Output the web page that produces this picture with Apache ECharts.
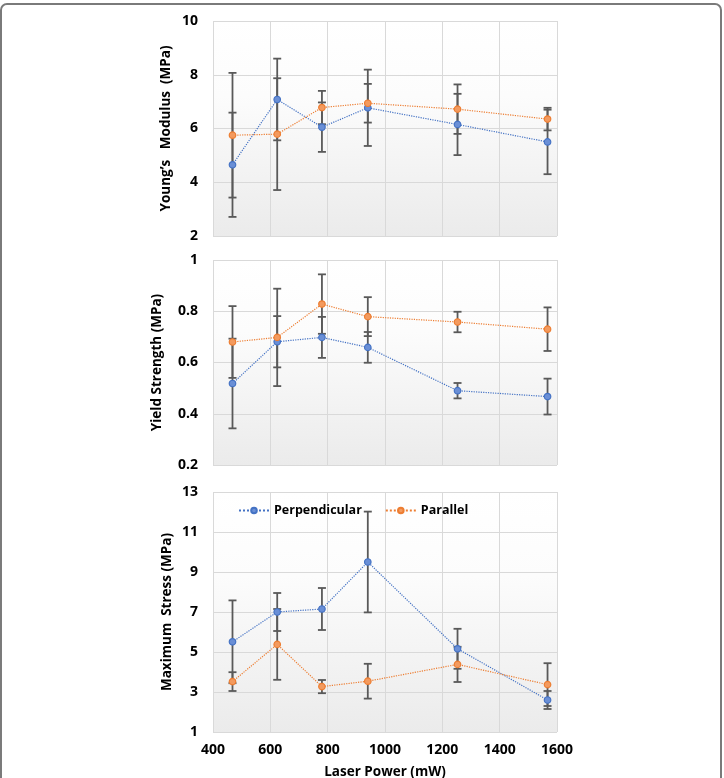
<!DOCTYPE html>
<html>
<head>
<meta charset="utf-8">
<script src="https://cdn.jsdelivr.net/npm/echarts@6/dist/echarts.min.js"></script>
<style>
  html, body { margin: 0; padding: 0; background: #fff; }
  #chart { width: 724px; height: 778px; }
</style>
</head>
<body>
<div id="chart"></div>
<script>
// laser power (mW) of the six test groups
var laserPower = [468, 624, 780, 940, 1253, 1567];

// Young's modulus (MPa)
var perpModulus = [4.65, 7.08, 6.05, 6.77, 6.15, 5.50];
var perpModulusErr = [1.94, 1.52, 0.92, 1.42, 1.14, 1.20];
var parModulus = [5.75, 5.79, 6.78, 6.94, 6.72, 6.35];
var parModulusErr = [2.32, 2.08, 0.62, 0.72, 0.92, 0.42];

// yield strength (MPa)
var perpYield = [0.518, 0.681, 0.698, 0.659, 0.490, 0.467];
var perpYieldErr = [0.175, 0.100, 0.080, 0.060, 0.030, 0.070];
var parYield = [0.680, 0.698, 0.828, 0.779, 0.758, 0.730];
var parYieldErr = [0.140, 0.190, 0.116, 0.076, 0.040, 0.085];

// maximum stress (MPa)
var perpStress = [5.51, 7.00, 7.15, 9.50, 5.16, 2.60];
var perpStressErr = [2.07, 0.95, 1.05, 2.52, 1.00, 0.45];
var parStress = [3.52, 5.38, 3.27, 3.54, 4.38, 3.37];
var parStressErr = [0.47, 1.77, 0.33, 0.87, 0.88, 1.07];

var blue = '#4472C4';
var orange = '#ED7D31';
var font = '"Open Sans", sans-serif';

function pts(ys) {
    var out = [];
    for (var i = 0; i < laserPower.length; i++) {
        out.push([laserPower[i], ys[i]]);
    }
    return out;
}

function errPts(ys, errs) {
    var out = [];
    for (var i = 0; i < laserPower.length; i++) {
        out.push([laserPower[i], ys[i] - errs[i], ys[i] + errs[i]]);
    }
    return out;
}

function renderErr(params, api) {
    var lo = api.coord([api.value(0), api.value(1)]);
    var hi = api.coord([api.value(0), api.value(2)]);
    var w = 4;
    var st = { stroke: '#595959', lineWidth: 1.8 };
    return {
        type: 'group',
        children: [
            { type: 'line', shape: { x1: lo[0], y1: lo[1], x2: hi[0], y2: hi[1] }, style: st },
            { type: 'line', shape: { x1: lo[0] - w, y1: lo[1], x2: lo[0] + w, y2: lo[1] }, style: st },
            { type: 'line', shape: { x1: hi[0] - w, y1: hi[1], x2: hi[0] + w, y2: hi[1] }, style: st }
        ]
    };
}

function lineSeries(name, idx, ys, color, fill) {
    return {
        name: name,
        type: 'line',
        xAxisIndex: idx,
        yAxisIndex: idx,
        data: pts(ys),
        symbol: 'circle',
        symbolSize: 6.5,
        z: 5,
        lineStyle: { color: color, width: 1.2, type: 'dotted' },
        itemStyle: { color: fill, borderColor: color, borderWidth: 1.2 }
    };
}

function errSeries(idx, ys, errs) {
    return {
        type: 'custom',
        xAxisIndex: idx,
        yAxisIndex: idx,
        data: errPts(ys, errs),
        renderItem: renderErr,
        encode: { x: 0, y: [1, 2] },
        z: 3,
        silent: true
    };
}

function bgGrad() {
    return new echarts.graphic.LinearGradient(0, 0, 0, 1, [
        { offset: 0, color: '#ffffff' },
        { offset: 0.35, color: '#fcfcfc' },
        { offset: 1, color: '#ebebeb' }
    ]);
}

var gridLine = { show: true, lineStyle: { color: '#d9d9d9', width: 1 } };
var tickFont = { fontFamily: font, fontWeight: 'bold', fontSize: 14, color: '#000' };
var nameFont = { fontFamily: font, fontWeight: 'bold', fontSize: 13.5, color: '#000' };

function xAx(idx, showLabels) {
    return {
        type: 'value',
        gridIndex: idx,
        min: 400, max: 1600, interval: 200,
        axisLine: { show: false },
        axisTick: { show: false },
        splitLine: gridLine,
        axisLabel: Object.assign({ show: showLabels, margin: 11, formatter: function (v) { return String(v); } }, tickFont),
        name: showLabels ? 'Laser Power (mW)' : '',
        nameLocation: 'middle',
        nameGap: 33,
        nameTextStyle: nameFont
    };
}

function yAx(idx, min, max, interval, name, gap, fmt) {
    return {
        type: 'value',
        gridIndex: idx,
        min: min, max: max, interval: interval,
        axisLine: { show: false },
        axisTick: { show: false },
        splitLine: gridLine,
        axisLabel: Object.assign({ margin: 15, formatter: fmt }, tickFont),
        name: name,
        nameLocation: 'middle',
        nameGap: gap,
        nameTextStyle: nameFont
    };
}

function grid(top, height) {
    return {
        left: 213, right: 167, top: top, height: height,
        show: true, borderWidth: 0, backgroundColor: bgGrad(),
        outerBoundsMode: 'none'
    };
}

var chart = echarts.init(document.getElementById('chart'));

var option = {
    animation: false,
    backgroundColor: '#fff',
    graphic: [{
        type: 'rect',
        shape: { x: 1, y: 4, width: 720, height: 800, r: 6 },
        style: { fill: 'none', stroke: '#7a7a7a', lineWidth: 2 },
        silent: true
    }],
    grid: [grid(21, 215), grid(260, 205), grid(492, 240)],
    legend: {
        left: 233,
        top: 499,
        itemWidth: 30,
        itemHeight: 7,
        itemGap: 23,
        textStyle: { fontFamily: font, fontWeight: 'bold', fontSize: 12.5, color: '#000' },
        data: ['Perpendicular', 'Parallel']
    },
    xAxis: [xAx(0, false), xAx(1, false), xAx(2, true)],
    yAxis: [
        yAx(0, 2, 10, 2, 'Young\u2019s   Modulus  (MPa)', 40),
        yAx(1, 0.2, 1, 0.2, 'Yield Strength (MPa)', 49, function (v) {
            return v >= 0.999 ? '1' : v.toFixed(1);
        }),
        yAx(2, 1, 13, 2, 'Maximum  Stress (MPa)', 39)
    ],
    series: [
        errSeries(0, perpModulus, perpModulusErr),
        errSeries(0, parModulus, parModulusErr),
        lineSeries('Perpendicular', 0, perpModulus, blue, '#6a8fd6'),
        lineSeries('Parallel', 0, parModulus, orange, '#f39a5e'),

        errSeries(1, perpYield, perpYieldErr),
        errSeries(1, parYield, parYieldErr),
        lineSeries('Perpendicular', 1, perpYield, blue, '#6a8fd6'),
        lineSeries('Parallel', 1, parYield, orange, '#f39a5e'),

        errSeries(2, perpStress, perpStressErr),
        errSeries(2, parStress, parStressErr),
        lineSeries('Perpendicular', 2, perpStress, blue, '#6a8fd6'),
        lineSeries('Parallel', 2, parStress, orange, '#f39a5e')
    ]
};

chart.setOption(option);
</script>
</body>
</html>
